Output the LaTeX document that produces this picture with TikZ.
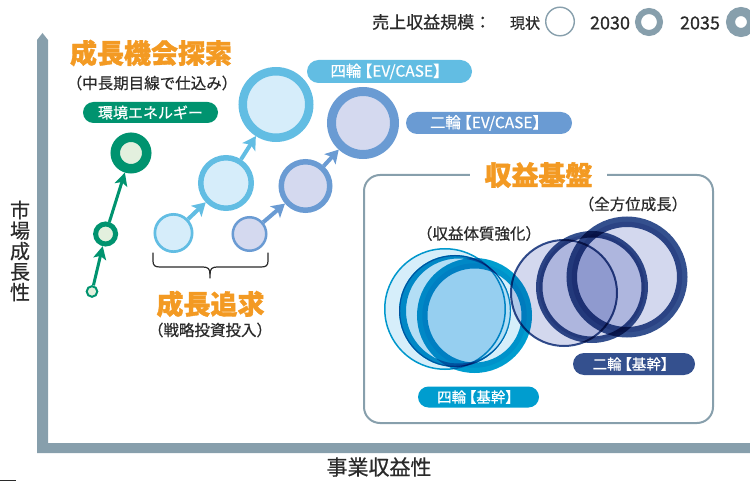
\documentclass[tikz,border=0pt]{standalone}
\usepackage{fontspec}
\setmainfont{Noto Sans CJK JP}
\newfontfamily\medfont[FakeBold=0.6]{Noto Sans CJK JP}
\newfontfamily\heavyfont[FakeBold=1.2]{Noto Sans CJK JP}
\usetikzlibrary{arrows.meta}
\definecolor{axisgray}{HTML}{879FAC}
\definecolor{orng}{HTML}{F39A23}
\definecolor{txt}{HTML}{2A2A2A}
\definecolor{grn}{HTML}{00936F}
\definecolor{grnfill}{HTML}{E3F0DE}
\definecolor{lbstroke}{HTML}{62BDE3}
\definecolor{lbfill}{HTML}{D6EDFA}
\definecolor{mbstroke}{HTML}{6A9BD3}
\definecolor{mbfill}{HTML}{D4D9EF}
\definecolor{cyanring}{HTML}{009DCF}
\definecolor{cyanfill}{HTML}{D6EEFA}
\definecolor{navy}{HTML}{34508E}
\definecolor{navyfill}{HTML}{D3D8EE}
\newcommand\fsz[1]{\fontsize{#1}{#1}\selectfont}
\newcommand\lbr{\kern-.3em【}
\tikzset{
  pillbox/.style={fill=#1, text=white, inner sep=0pt, font=\medfont\fsz{15}},
  ringnode/.style={circle, inner sep=0pt},
  garrow/.style={draw=grn, line width=3pt, -{Stealth[length=13pt,width=13pt,inset=3pt]}},
  lbarrow/.style={draw=lbstroke, line width=4pt, -{Stealth[length=13pt,width=15pt,inset=3pt]}},
  mbarrow/.style={draw=mbstroke, line width=4pt, -{Stealth[length=13pt,width=15pt,inset=3pt]}},
  orangetitle/.style={text=orng, font=\heavyfont\bfseries\fsz{27}, inner sep=0pt},
  subnote/.style={text=txt, font=\medfont\fsz{15.5}, inner sep=0pt},
}
\begin{document}
\begin{tikzpicture}[x=1pt,y=-1pt]
\useasboundingbox (0,0) rectangle (750,481);

% axes
\fill[axisgray] (37,453) -- (37,40) -- (42.5,33) -- (48,40) -- (48,443) -- (750,443) -- (750,453) -- cycle;
\node[text=txt, font=\medfont\fontsize{20}{20.5}\selectfont, align=center, inner sep=0pt] (ylab) at (20,251) {市\\場\\成\\長\\性};
\node[text=txt, font=\medfont\fsz{21}, inner sep=0pt] (xlab) at (379,467) {事業収益性};
\draw[txt, line width=1.2pt] (0,480.2) -- (16,480.2);

% legend
\node[text=txt, font=\medfont\fsz{17}, anchor=west, inner sep=0pt] (leg) at (372,22) {売上収益規模：};
\node[text=txt, font=\medfont\fsz{15}, inner sep=0pt] (legnow) at (525,23) {現状};
\draw[axisgray, line width=1.4pt] (560,21.5) circle[radius=14.3pt];
\node[text=txt, font=\medfont\fsz{18}, inner sep=0pt] (leg30) at (610,23) {2030};
\draw[axisgray, line width=6pt] (649,22) circle[radius=11pt];
\node[text=txt, font=\medfont\fsz{18}, inner sep=0pt] (leg35) at (700,23) {2035};
\draw[axisgray, line width=9pt] (741,22) circle[radius=10.5pt];

% growth exploration
\node[orangetitle] (t1) at (151,53) {成長機会探索};
\node[subnote] (s1) at (152,83) {（中長期目線で仕込み）};
\node[pillbox=grn, minimum width=135pt, minimum height=21pt, rounded corners=10.5pt] (penv) at (150.5,112.5) {環境エネルギー};

\node[ringnode, draw=grn, fill=grnfill, line width=2pt, minimum size=10.6pt] (g1) at (92,291.5) {};
\node[ringnode, draw=grn, fill=grnfill, line width=5pt, minimum size=20pt] (g2) at (105.6,234) {};
\node[ringnode, draw=grn, fill=grnfill, line width=9.5pt, minimum size=31.5pt] (g3) at (131,153) {};
\draw[garrow] (g1) -- (g2);
\draw[garrow] (g2) -- (g3);

% EV/CASE pills
\node[pillbox=lbstroke, font=\medfont\fsz{15.5}, minimum width=165pt, minimum height=23pt, rounded corners=11.5pt] (p4ev) at (389.5,71.5) {四輪\lbr EV/CASE】};
\node[pillbox=mbstroke, font=\medfont\fsz{15.5}, minimum width=166pt, minimum height=22pt, rounded corners=11pt] (p2ev) at (489,123) {二輪\lbr EV/CASE】};

% four-wheel EV chain
\node[ringnode, draw=lbstroke, fill=lbfill, line width=2.7pt, minimum size=37.3pt] (lb1) at (173.5,233) {};
\node[ringnode, draw=lbstroke, fill=lbfill, line width=5.5pt, minimum size=50.5pt] (lb2) at (226,183) {};
\node[ringnode, draw=lbstroke, fill=lbfill, line width=8.5pt, minimum size=66.5pt] (lb3) at (276,104.5) {};
\draw[lbarrow] (lb1) -- (lb2);
\draw[lbarrow] (lb2) -- (lb3);

% two-wheel EV chain
\node[ringnode, draw=mbstroke, fill=mbfill, line width=2.5pt, minimum size=33.5pt] (mb1) at (249.5,234) {};
\node[ringnode, draw=mbstroke, fill=mbfill, line width=5.5pt, minimum size=48.5pt] (mb2) at (305.5,186) {};
\node[ringnode, draw=mbstroke, fill=mbfill, line width=9pt, minimum size=63pt] (mb3) at (363,123) {};
\draw[mbarrow] (mb1) -- (mb2);
\draw[mbarrow] (mb2) -- (mb3);

% brace
\draw[txt, line width=1.2pt, line cap=round]
  (153,253) -- (153,261) .. controls (153,265.5) and (155,267) .. (160,267) -- (203,267)
  .. controls (208,267) and (210,269) .. (210,274) -- (210,278);
\draw[txt, line width=1.2pt, line cap=round]
  (268,253) -- (268,261) .. controls (268,265.5) and (266,267) .. (261,267) -- (217,267)
  .. controls (212,267) and (210,269) .. (210,274);
\node[orangetitle] (t2) at (210.5,304) {成長追求};
\node[subnote] (s2) at (210,330) {（戦略投資投入）};

% revenue base box
\draw[axisgray, line width=2pt, rounded corners=16pt] (364,175) rectangle (713,423);
\node[orangetitle, fill=white, minimum width=137pt, inner ysep=3pt] (t3) at (538.5,175) {収益基盤};
\node[subnote] (s3) at (633,204) {（全方位成長）};
\node[subnote] (s4) at (479,233.5) {（収益体質強化）};

% overlapping circles
\begin{scope}[blend mode=multiply]
  % two-wheel core
  \draw[draw=navy, fill=navyfill, line width=2pt] (564,293) circle[radius=53pt];
  \draw[draw=navy, fill=navyfill, line width=6.5pt] (592,287) circle[radius=52.75pt];
  \draw[draw=navy, fill=navyfill, line width=10.5pt] (627,277) circle[radius=55.25pt];
  % four-wheel core
  \draw[draw=cyanring, fill=cyanfill, line width=1.5pt] (445,309) circle[radius=60.25pt];
  \fill[cyanfill] (455,311) circle[radius=56pt];
  \fill[cyanring, even odd rule] (455,311) circle[radius=56pt] (458.5,311) circle[radius=52.5pt];
  \draw[cyanring, line width=1.2pt] (455,311) circle[radius=55.4pt];
  \draw[draw=cyanring, fill=cyanfill, line width=10.5pt] (474.5,315.5) circle[radius=52.25pt];
\end{scope}

\node[pillbox=cyanring, font=\medfont\fsz{14.5}, minimum width=121pt, minimum height=21pt, rounded corners=10.5pt] (p4core) at (478.5,397) {四輪\lbr 基幹】};
\node[pillbox=navy, font=\medfont\fsz{14.5}, minimum width=122pt, minimum height=22pt, rounded corners=11pt] (p2core) at (634,364) {二輪\lbr 基幹】};
\end{tikzpicture}
\end{document}
